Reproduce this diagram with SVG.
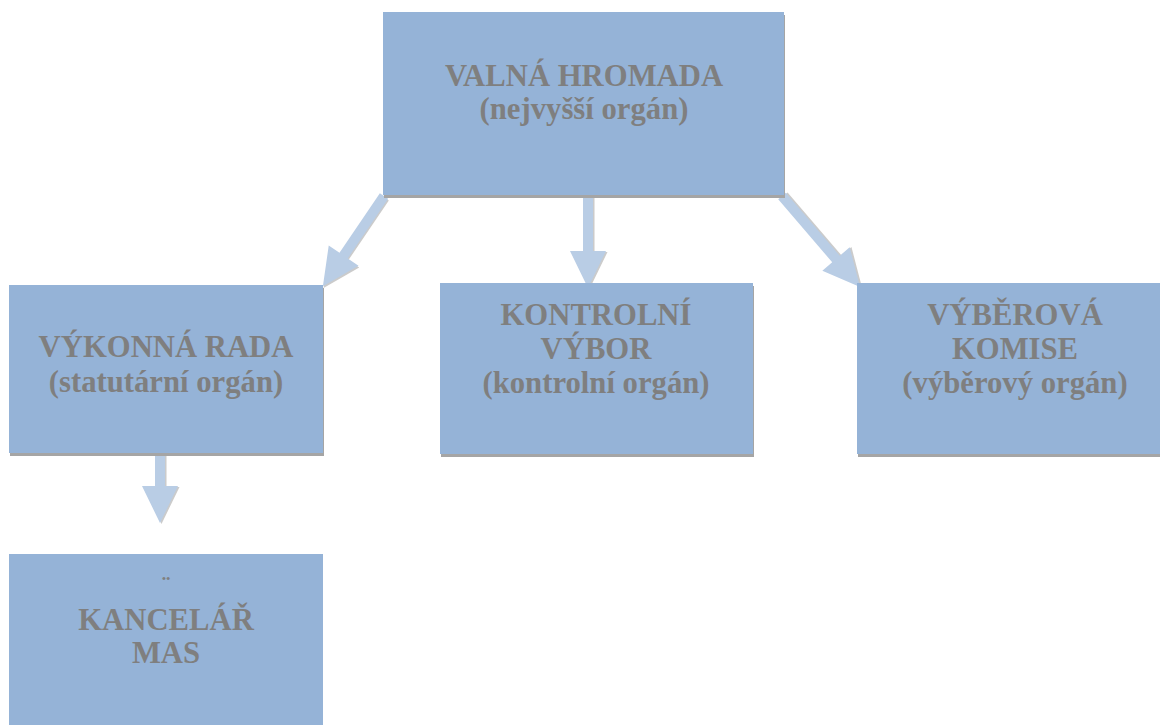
<svg xmlns="http://www.w3.org/2000/svg" width="1160" height="725" viewBox="0 0 1160 725">
<defs>
<style>
.box{fill:#95b3d7}
.sh{fill:#a5a5a5}
.t{font-family:"Liberation Serif","Times New Roman",serif;font-weight:bold;font-size:30.7px;fill:#7f7f7f;text-anchor:middle}
.arr{fill:#b9cde5}
.arrsh{fill:#a9a9a9;opacity:0.6}
</style>
</defs>
<rect width="1160" height="725" fill="#ffffff"/>
<g id="connectors">
<g transform="translate(384,196) rotate(34.1)">
<polygon class="arrsh" transform="translate(1.5,1)" points="-5,0 5,0 5,72 18,72 0,109 -18,72 -5,72"/>
<polygon class="arr" points="-5,0 5,0 5,72 18,72 0,109 -18,72 -5,72"/>
</g>
<g transform="translate(588,196)">
<polygon class="arrsh" transform="translate(1.5,1)" points="-5,0 5,0 5,55 18,55 0,92 -18,55 -5,55"/>
<polygon class="arr" points="-5,0 5,0 5,55 18,55 0,92 -18,55 -5,55"/>
</g>
<g transform="translate(782,196) rotate(-40.6)">
<polygon class="arrsh" transform="translate(1.5,1)" points="-5,0 5,0 5,83 18,83 0,120 -18,83 -5,83"/>
<polygon class="arr" points="-5,0 5,0 5,83 18,83 0,120 -18,83 -5,83"/>
</g>
<g transform="translate(160,455)">
<polygon class="arrsh" transform="translate(1.5,1)" points="-5,0 5,0 5,31 18,31 0,68 -18,31 -5,31"/>
<polygon class="arr" points="-5,0 5,0 5,31 18,31 0,68 -18,31 -5,31"/>
</g>
</g>
<g id="valna">
<rect class="sh" x="384" y="15" width="401" height="183"/>
<rect class="box" x="383" y="12" width="401" height="183"/>
<text class="t" x="584" y="86">VALNÁ HROMADA</text>
<text class="t" x="584" y="119">(nejvyšší orgán)</text>
</g>
<g id="vykonna">
<rect class="sh" x="10" y="288" width="314" height="168"/>
<rect class="box" x="9" y="285" width="314" height="168"/>
<text class="t" x="166" y="357">VÝKONNÁ RADA</text>
<text class="t" x="166" y="392">(statutární orgán)</text>
</g>
<g id="kontrolni">
<rect class="sh" x="441" y="286" width="313" height="171"/>
<rect class="box" x="440" y="283" width="313" height="171"/>
<text class="t" x="596" y="325">KONTROLNÍ</text>
<text class="t" x="596" y="359">VÝBOR</text>
<text class="t" x="596" y="393">(kontrolní orgán)</text>
</g>
<g id="vyberova">
<rect class="sh" x="858" y="286" width="320" height="171"/>
<rect class="box" x="857" y="283" width="320" height="171"/>
<text class="t" x="1015" y="325">VÝBĚROVÁ</text>
<text class="t" x="1015" y="359">KOMISE</text>
<text class="t" x="1015" y="393">(výběrový orgán)</text>
</g>
<g id="kancelar">
<rect class="box" x="9" y="554" width="314" height="180"/>
<text class="t" x="166" y="594" style="font-size:26px">¨</text>
<text class="t" x="166" y="630">KANCELÁŘ</text>
<text class="t" x="166" y="663">MAS</text>
</g>
</svg>
